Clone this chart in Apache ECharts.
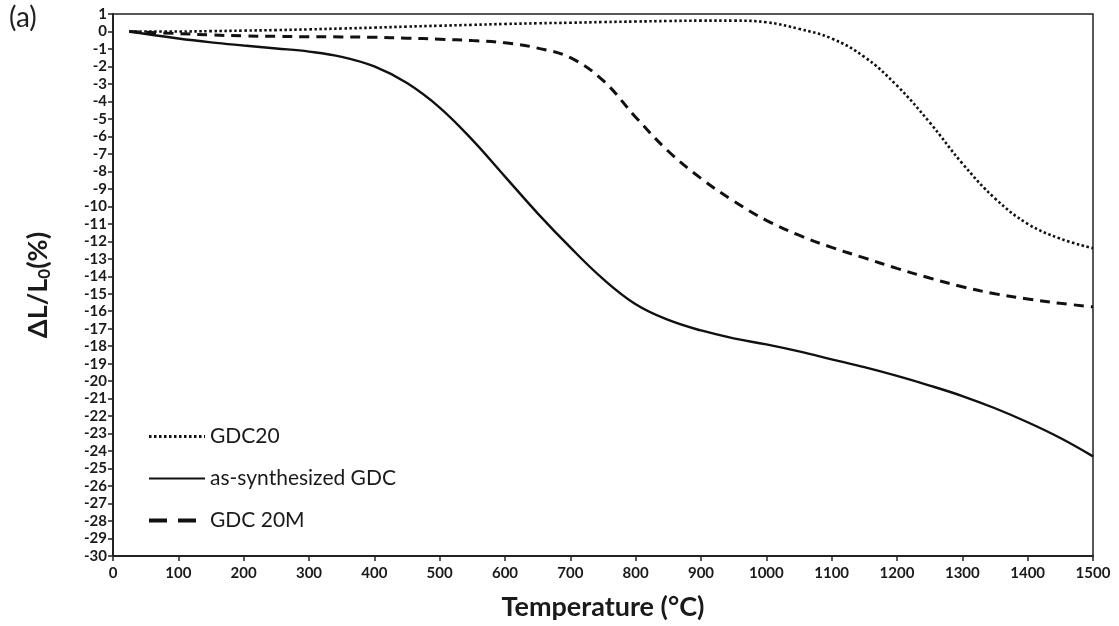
<!DOCTYPE html>
<html>
<head>
<meta charset="utf-8">
<title>Dilatometry – GDC shrinkage</title>
<script src="https://cdn.jsdelivr.net/npm/echarts@6/dist/echarts.min.js"></script>
<style>
  html, body { margin: 0; padding: 0; background: #ffffff; }
  #chart { width: 1119px; height: 626px; }
</style>
</head>
<body>
<div id="chart"></div>
<script>
// Temperature grid (°C) shared by all three curves
const temperature = [25, 100, 150, 200, 250, 300, 350, 400, 450, 500, 550, 600, 650, 700, 750,
                     800, 850, 900, 950, 1000, 1050, 1100, 1150, 1200, 1250, 1300, 1350, 1400, 1450, 1500];

// Linear shrinkage ΔL/L0 (%) for each powder
const gdc20 = [0, 0, 0.02, 0.05, 0.08, 0.12, 0.17, 0.22, 0.28, 0.33, 0.38, 0.43, 0.47, 0.5, 0.54,
               0.57, 0.6, 0.62, 0.62, 0.53, 0.15, -0.4, -1.45, -3.1, -5.2, -7.55, -9.55, -11.0, -11.85, -12.4];
const asSynthesized = [0, -0.4, -0.62, -0.8, -0.97, -1.15, -1.45, -2.0, -2.95, -4.35, -6.2, -8.3, -10.4, -12.35, -14.15,
                       -15.6, -16.5, -17.1, -17.55, -17.9, -18.3, -18.75, -19.2, -19.7, -20.25, -20.85, -21.55, -22.35, -23.25, -24.3];
const gdc20m = [0, -0.12, -0.2, -0.25, -0.28, -0.3, -0.31, -0.33, -0.38, -0.44, -0.52, -0.65, -0.95, -1.5, -2.8,
                -4.9, -6.85, -8.4, -9.7, -10.8, -11.65, -12.35, -12.95, -13.55, -14.1, -14.6, -15.0, -15.3, -15.55, -15.75];

const seriesNames = ['GDC20', 'as-synthesized GDC', 'GDC 20M'];

const pairs = (ys) => temperature.map((t, i) => [t, ys[i]]);

const tickFont = { fontFamily: 'Lato', fontWeight: 'bold', fontSize: 15, color: '#1a1a1a' };

const chart = echarts.init(document.getElementById('chart'), null, { renderer: 'canvas' });

chart.setOption({
  animation: false,
  backgroundColor: '#ffffff',
  color: ['#111', '#111', '#111'],
  grid: {
    left: 113, right: 26, top: 14, bottom: 70,
    show: true, borderColor: '#222', borderWidth: 1.5, containLabel: false
  },
  graphic: [{
    type: 'text', left: 9, top: 4,
    style: { text: '(a)', fontFamily: 'Lato', fontSize: 28, fill: '#222' }
  }],
  legend: {
    orient: 'vertical',
    left: 142, top: 421,
    itemWidth: 56, itemHeight: 14, itemGap: 21,
    data: [
      { name: seriesNames[0], lineStyle: { width: 3 } },
      { name: seriesNames[1] },
      { name: seriesNames[2], lineStyle: { type: [18, 11], width: 4 } }
    ],
    itemStyle: { opacity: 0 },
    textStyle: { fontFamily: 'Lato', fontSize: 21, color: '#1a1a1a' }
  },
  xAxis: {
    type: 'value', min: 0, max: 1500, interval: 100,
    name: 'Temperature (°C)', nameLocation: 'middle', nameGap: 38,
    nameTextStyle: { fontFamily: 'Lato', fontWeight: 'bold', fontSize: 27, color: '#1a1a1a' },
    axisLine: { show: true, onZero: false, lineStyle: { color: '#222', width: 2 } },
    axisTick: { show: true, inside: false, length: 5, lineStyle: { color: '#222', width: 1.5 } },
    axisLabel: Object.assign({ margin: 10, formatter: (v) => String(v) }, tickFont),
    splitLine: { show: false }
  },
  yAxis: {
    type: 'value', min: -30, max: 1, interval: 1,
    name: '{a|ΔL/L}{s|0}{a|(%)}', nameLocation: 'middle', nameGap: 60, nameRotate: 90,
    nameTextStyle: {
      rich: {
        a: { fontFamily: 'Lato', fontWeight: 'bold', fontSize: 27, color: '#1a1a1a' },
        s: { fontFamily: 'Lato', fontWeight: 'bold', fontSize: 17, color: '#1a1a1a', verticalAlign: 'bottom', padding: [12, 0, 0, 0] }
      }
    },
    axisLine: { show: true, onZero: false, lineStyle: { color: '#222', width: 2 } },
    axisTick: { show: true, inside: false, length: 5, lineStyle: { color: '#222', width: 1.5 } },
    axisLabel: Object.assign({ margin: 6, interval: 0, formatter: (v) => String(v) }, tickFont),
    splitLine: { show: false }
  },
  series: [
    {
      name: seriesNames[0], type: 'line', data: pairs(gdc20),
      showSymbol: false, symbol: 'none', smooth: 0.4,
      itemStyle: { color: '#111' },
      lineStyle: { color: '#111', width: 2.6, type: [2.5, 2.5], cap: 'butt' }
    },
    {
      name: seriesNames[1], type: 'line', data: pairs(asSynthesized),
      showSymbol: false, symbol: 'none', smooth: 0.4,
      itemStyle: { color: '#111' },
      lineStyle: { color: '#111', width: 2.4, type: 'solid' }
    },
    {
      name: seriesNames[2], type: 'line', data: pairs(gdc20m),
      showSymbol: false, symbol: 'none', smooth: 0.4,
      itemStyle: { color: '#111' },
      lineStyle: { color: '#111', width: 3, type: [10, 7], cap: 'butt' }
    }
  ]
});
</script>
</body>
</html>
